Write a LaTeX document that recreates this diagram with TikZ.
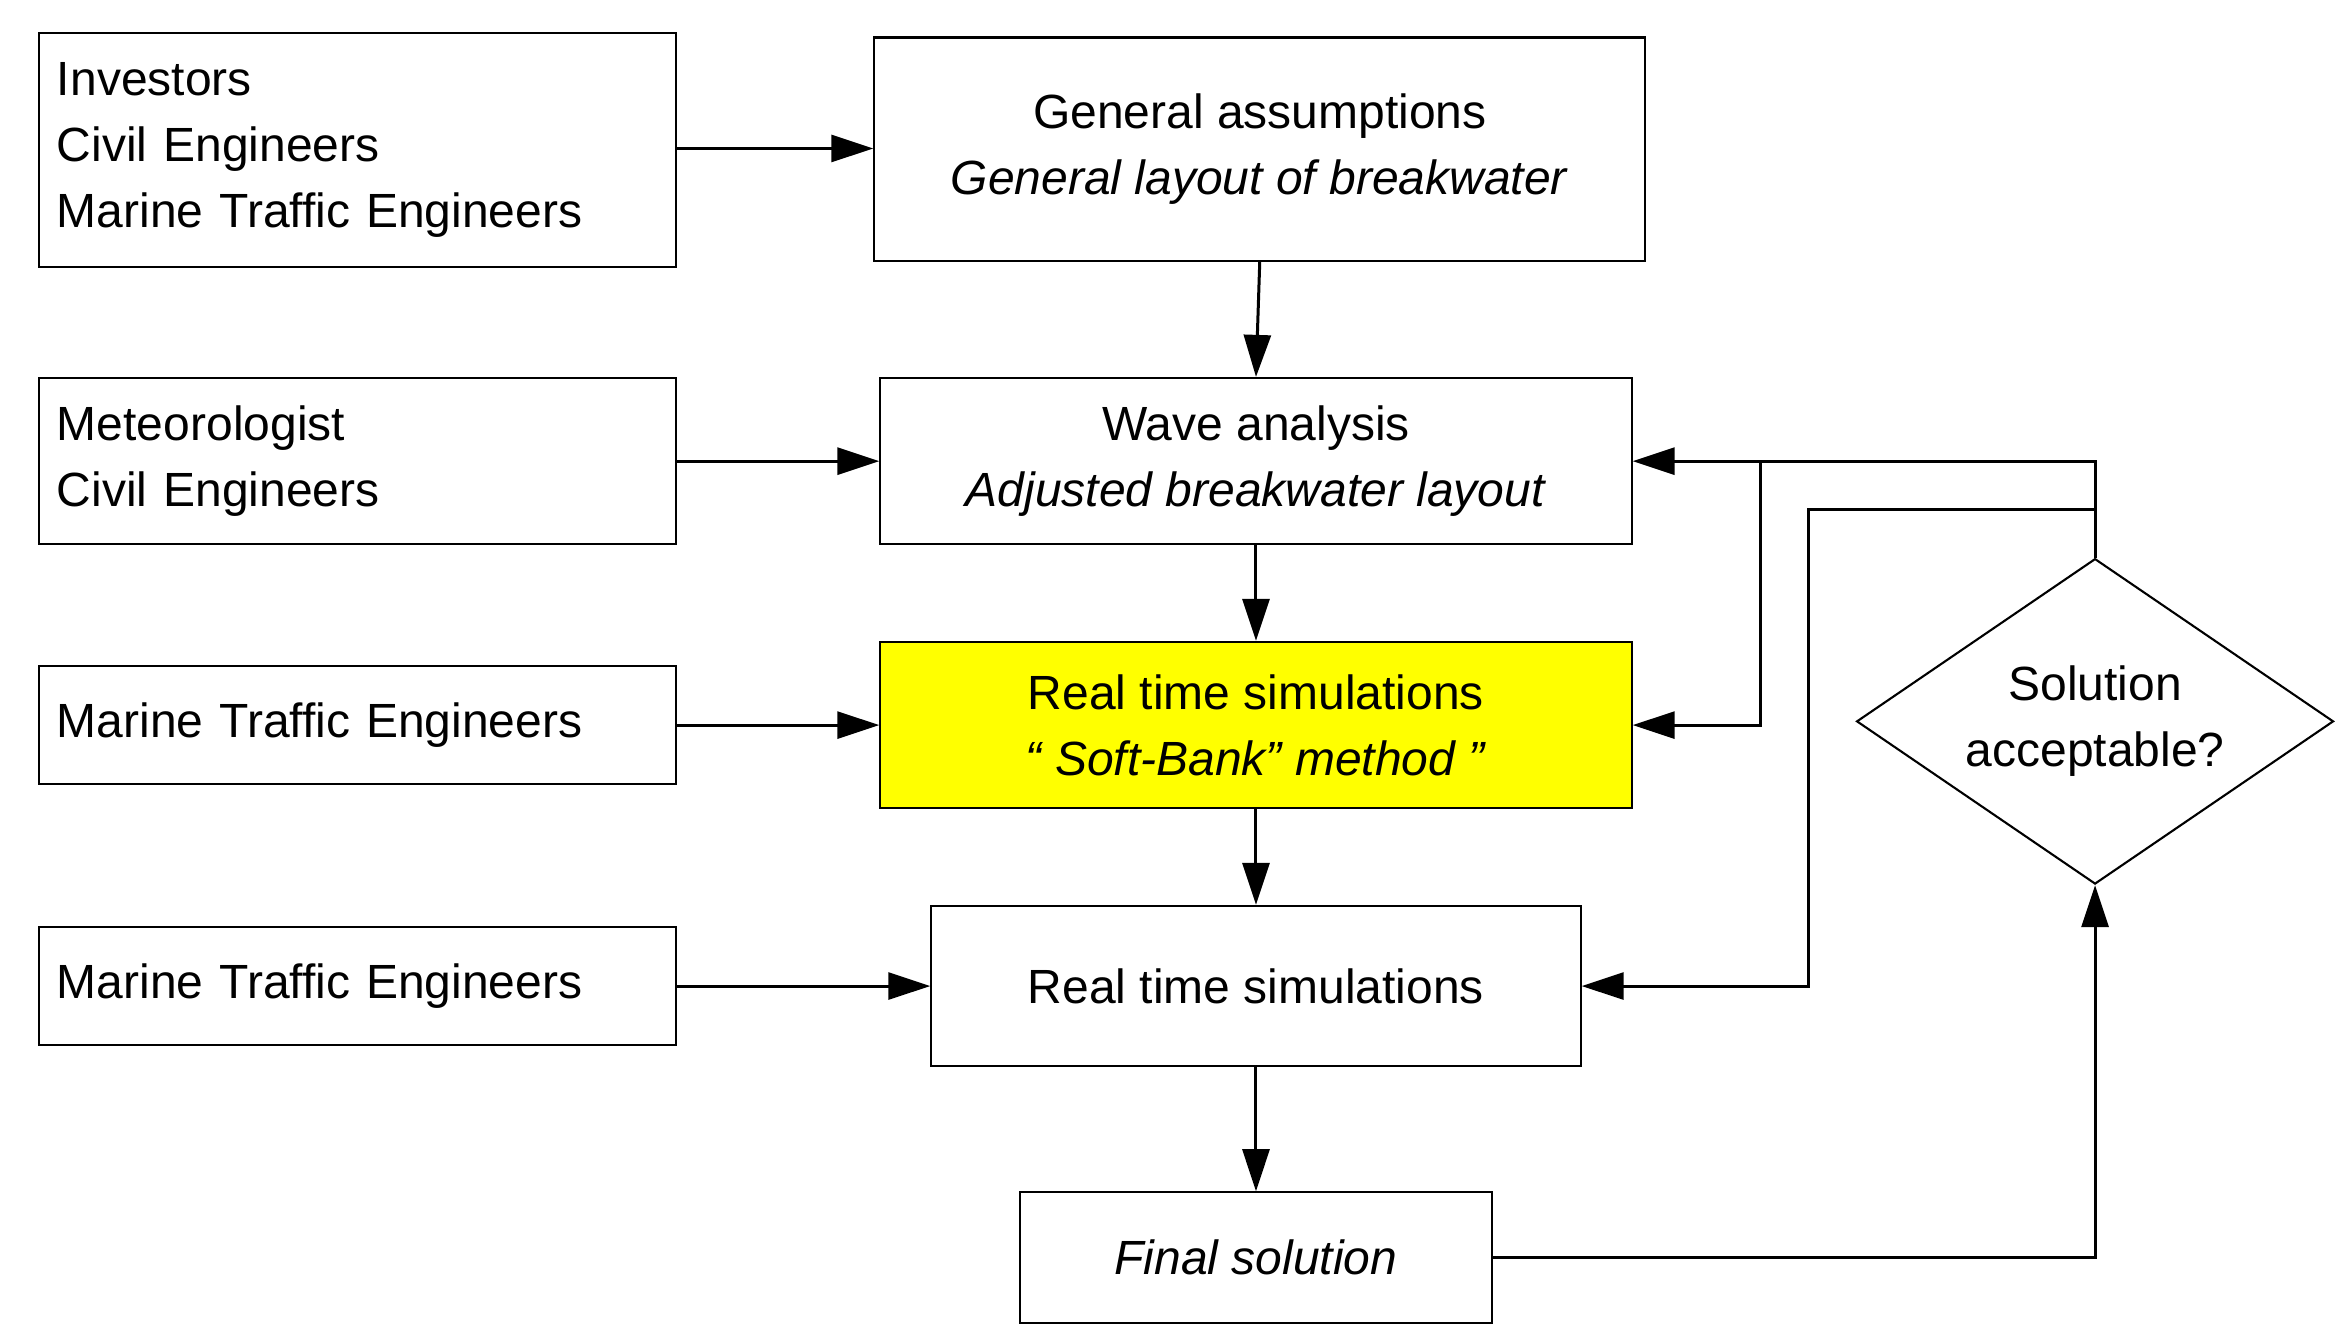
\documentclass[tikz,border=0pt]{standalone}
\usepackage{fontspec}
\setmainfont{Liberation Sans}
\usetikzlibrary{arrows.meta,shapes.geometric}
\begin{document}
\begin{tikzpicture}[x=0.5pt,y=-0.5pt,
  box/.style={draw,line width=0.7pt,inner sep=0pt,font=\fontsize{16pt}{22pt}\selectfont,align=center},
  lbox/.style={box,minimum width=212.5pt,text width=200.5pt,align=left},
  arr/.style={line width=1pt,-{Triangle[length=14pt,width=9pt]}},
  ln/.style={line width=1pt}]
\useasboundingbox (0,0) rectangle (1563,895);
\node[lbox,minimum height=78pt] (inv) at (238.5,100) {Investors\\Civil Engineers\\Marine Traffic Engineers};
\node[box,minimum width=257pt,minimum height=74.5pt] (ga) at (840,99.5) {General assumptions\\\textit{General layout of breakwater}};
\node[lbox,minimum height=55.5pt] (met) at (238.5,307.5) {Meteorologist\\Civil Engineers};
\node[box,minimum width=250.5pt,minimum height=55.5pt] (wave) at (837.5,307.5) {Wave analysis\\\textit{Adjusted breakwater layout}};
\node[lbox,minimum height=39.5pt] (mte1) at (238.5,483.5) {Marine Traffic Engineers};
\node[box,fill={rgb,255:red,255;green,255;blue,0},minimum width=250.5pt,minimum height=55.5pt] (rts1) at (837.5,483.5) {Real time simulations\\\textit{“ Soft-Bank” method ”}};
\node[lbox,minimum height=39.5pt] (mte2) at (238.5,657.5) {Marine Traffic Engineers};
\node[box,minimum width=216.5pt,minimum height=53.5pt] (rts2) at (837.5,657.5) {Real time simulations};
\node[box,minimum width=157.5pt,minimum height=43.5pt] (fin) at (837.5,838.5) {\textit{Final solution}};
\node[draw,diamond,line width=0.7pt,inner sep=0pt,minimum width=159pt,minimum height=108.5pt] (dia) at (1397,481) {};
\node[font=\fontsize{16pt}{22pt}\selectfont,align=center] (diat) at (1397,481) {Solution\\acceptable?};
\coordinate (j1) at (1174,307);
\coordinate (j2) at (1397,340);
\draw[arr] (inv.east|-0,99) -- (ga.west|-0,99);
\draw[arr] (ga.south) -- (wave.north);
\draw[arr] (met) -- (wave);
\draw[arr] (wave) -- (rts1);
\draw[arr] (mte1) -- (rts1);
\draw[arr] (rts1) -- (rts2);
\draw[arr] (mte2) -- (rts2);
\draw[arr] (rts2) -- (fin);
\draw[arr] (fin.east) -| (dia.south);
\draw[arr] (dia.north) |- (wave.east);
\draw[arr] (j1) |- (rts1.east);
\draw[arr] (j2) -| (1206,657.5) -- (rts2.east);
\end{tikzpicture}
\end{document}
